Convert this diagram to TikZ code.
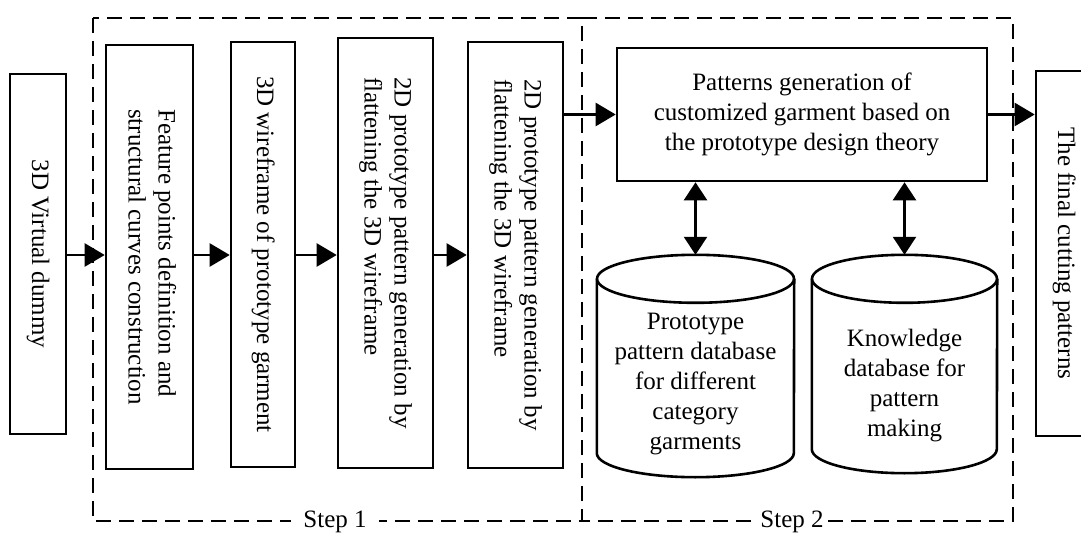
\documentclass[tikz,border=0pt]{standalone}
\usepackage{fontspec}
\setmainfont{Liberation Serif}
\usetikzlibrary{arrows.meta}
% text set top-to-bottom inside the tall boxes
\newcommand\vlines[1]{\rotatebox{-90}{\begin{tabular}{@{}l@{}}#1\end{tabular}}}
\begin{document}
\begin{tikzpicture}[x=1pt,y=1pt,
  font=\fontsize{25}{30}\selectfont,
  box/.style={draw, line width=2.6pt, inner sep=0pt, align=center},
  dbshape/.style={draw=none, inner sep=0pt},
  dbtext/.style={align=center, inner sep=0pt},
  dbline/.style={line width=2.6pt},
  arr/.style={line width=2.4pt, -{Triangle[length=20pt,width=23pt]}},
  darr/.style={line width=2.4pt, {Triangle[length=18pt,width=23pt]}-{Triangle[length=18pt,width=23pt]}},
  stepframe/.style={line width=2.4pt, dash pattern=on 15pt off 8pt},
  steplabel/.style={fill=white, inner ysep=3pt}
]
\useasboundingbox (0,0) rectangle (1081,536);

% processing chain
\node[box, minimum width=56, minimum height=360] (dummy) at (38,282) {\vlines{3D Virtual dummy}};
\node[box, minimum width=87, minimum height=424] (b1) at (149.5,279) {\vlines{Feature points definition and\\structural curves construction}};
\node[box, minimum width=64, minimum height=425] (b2) at (263,281.5) {\vlines{3D wireframe of prototype garment}};
\node[box, minimum width=95, minimum height=430] (b3) at (385.5,283) {\vlines{2D prototype pattern generation by\\flattening the 3D wireframe}};
\node[box, minimum width=95, minimum height=426] (b4) at (515.5,281) {\vlines{2D prototype pattern generation by\\flattening the 3D wireframe}};
\node[box, minimum width=370, minimum height=133] (pat) at (802,421.5) {Patterns generation of\\customized garment based on\\the prototype design theory};
\node[box, minimum width=56, minimum height=365] (fin) at (1064,282.5) {\vlines{The final cutting patterns}};

% databases
\node[dbshape, minimum width=197, minimum height=222] (db1) at (695.5,170) {};
\draw[dbline] ([yshift=-24pt]db1.north west) -- ([yshift=24pt]db1.south west)
  arc[start angle=180, end angle=360, x radius=98.5, y radius=24] -- ([yshift=-24pt]db1.north east);
\draw[dbline] ([yshift=-24pt]db1.north) ellipse [x radius=98.5, y radius=24];
\node[dbtext] (db1text) at (695.5,152) {Prototype\\pattern database\\for different\\category\\garments};

\node[dbshape, minimum width=185, minimum height=218] (db2) at (904.5,172) {};
\draw[dbline] ([yshift=-24pt]db2.north west) -- ([yshift=24pt]db2.south west)
  arc[start angle=180, end angle=360, x radius=92.5, y radius=24] -- ([yshift=-24pt]db2.north east);
\draw[dbline] ([yshift=-24pt]db2.north) ellipse [x radius=92.5, y radius=24];
\node[dbtext] (db2text) at (904.5,150) {Knowledge\\database for\\pattern\\making};

% connectors
\coordinate (row) at (0,281);
\draw[arr] (dummy.east |- row) -- (b1.west |- row);
\draw[arr] (b1.east |- row) -- (b2.west |- row);
\draw[arr] (b2.east |- row) -- (b3.west |- row);
\draw[arr] (b3.east |- row) -- (b4.west |- row);
\draw[arr] (b4.east |- pat.west) -- (pat.west);
\draw[arr] (pat.east) -- (pat.east -| fin.west);
\draw[darr] (db1.north |- pat.south) -- (db1.north);
\draw[darr] (db2.north |- pat.south) -- (db2.north);

% step frames
\draw[stepframe] (93,518) rectangle (582,15);
\draw[stepframe] (582,518) -- (1013,518) -- (1013,15) -- (582,15);
\node[steplabel, inner xsep=12pt] (s1) at (335,14) {Step 1};
\node[steplabel, inner xsep=3pt] (s2) at (792,14) {Step 2};
\end{tikzpicture}
\end{document}
